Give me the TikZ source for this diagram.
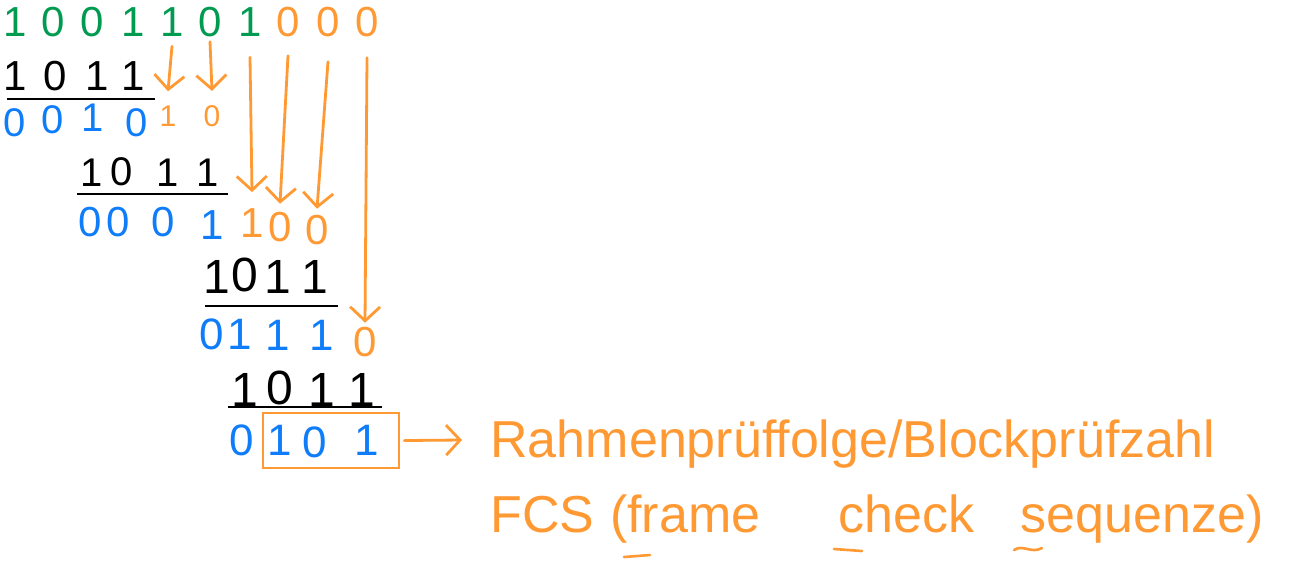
\documentclass[tikz,border=0pt]{standalone}
\usepackage{fontspec}
\setmainfont{Liberation Sans}
\usetikzlibrary{arrows.meta}
\definecolor{grn}{RGB}{0,155,80}
\definecolor{org}{RGB}{255,153,51}
\definecolor{blu}{RGB}{15,125,250}
\tikzset{
  dig/.style={inner sep=0pt,font=\fontsize{#1}{#1}\selectfont},
  dig/.default=21,
  gdig/.style={dig,text=grn},
  odig/.style={dig=#1,text=org},
  odig/.default=21,
  bdig/.style={dig=#1,text=blu},
  bdig/.default=21,
  uline/.style={line width=1.3pt,black},
  garr/.style={-{Straight Barb[length=7pt,width=15pt]},draw=org,line width=1.4pt,line cap=round},
  fcsbox/.style={draw=org,line width=1.4pt,minimum width=68pt,minimum height=27.5pt,inner sep=0pt},
  hlbl/.style={inner sep=0pt,anchor=base west,text=org,font=\fontsize{26}{30}\selectfont},
  tickmark/.style={org,line width=1.3pt,line cap=round}
}

\begin{document}
\begin{tikzpicture}[x=0.5pt,y=-0.5pt]
  \useasboundingbox (0,0) rectangle (1309,574);

  % Dividend with appended zeros
  \foreach \d/\x [count=\i] in {1/15,0/53,0/92,1/133,1/172,0/210,1/250}
    \node[gdig] (t\i) at (\x,22.5) {\d};
  \foreach \d/\x [count=\i from 8] in {0/288,0/328,0/367}
    \node[odig] (t\i) at (\x,22.5) {\d};

  % Step 1
  \foreach \d/\x [count=\i] in {1/15,0/55,1/97,1/133}
    \node[dig] (a\i) at (\x,76) {\d};
  \draw[uline] (7,99) -- (155,99);
  \foreach \d/\x/\y [count=\i] in {0/15/123,0/53/120,1/93/118,0/137/123}
    \node[bdig=20] (ra\i) at (\x,\y) {\d};
  \node[odig=15] (oa1) at (168,116) {1};
  \node[odig=15] (oa2) at (212,116) {0};

  % Step 2
  \foreach \d/\x/\y [count=\i] in {1/92/173,0/122/172,1/168/173,1/208/173}
    \node[dig=20] (b\i) at (\x,\y) {\d};
  \draw[uline] (77,194) -- (228,194);
  \foreach \d/\x/\y [count=\i] in {0/90/222,0/118/222,0/163/222,1/212/225}
    \node[bdig] (rb\i) at (\x,\y) {\d};
  \node[odig] (ob1) at (252,223) {1};
  \node[odig] (ob2) at (280,227) {0};
  \node[odig] (ob3) at (317,230) {0};

  % Step 3
  \foreach \d/\x/\y [count=\i] in {1/217/277,0/245/275,1/278/277,1/315/277}
    \node[dig=24] (c\i) at (\x,\y) {\d};
  \draw[uline] (205,306) -- (338,306);
  \foreach \d/\x/\y [count=\i] in {0/212/334,1/240/334,1/278/335,1/322/335}
    \node[bdig=22] (rc\i) at (\x,\y) {\d};
  \node[odig] (oc1) at (365,342) {0};

  % Step 4
  \foreach \d/\x/\y [count=\i] in {1/245/390,0/280/388,1/322/390,1/362/390}
    \node[dig=24] (d\i) at (\x,\y) {\d};
  \draw[uline] (228,407) -- (382,407);
  \node[bdig=22] (rd1) at (242,440) {0};
  \node[fcsbox] (fcs) at (331,440.5) {};
  \node[bdig=22] (rd2) at (280,440) {1};
  \node[bdig=22] (rd3) at (315,442) {0};
  \node[bdig=22] (rd4) at (367,440) {1};

  % Bring-down arrows
  \draw[garr] ([yshift=-4.5pt]t5.south) -- ([yshift=7pt]oa1.north);
  \draw[garr] ([yshift=-2pt]t6.south) -- ([yshift=7pt]oa2.north);
  \draw[garr] ([yshift=-10pt]t7.south) -- ([yshift=8pt]ob1.north);
  \draw[garr] ([yshift=-9pt]t8.south) -- ([yshift=4pt]ob2.north);
  \draw[garr] ([yshift=-12pt]t9.south) -- ([yshift=3pt]ob3.north);
  \draw[garr] ([yshift=-10pt]t10.south) -- ([yshift=2pt]oc1.north);

  % Result label
  \coordinate (fcsend) at (462,440);
  \draw[garr] ([xshift=2pt]fcs.east) -- (fcsend);
  \node[hlbl] (lbl1) at (490,457) {Rahmenprüffolge/Blockprüfzahl};
  \node[hlbl] (lbl2) at (490,532) {FCS\hspace{0.3em}(frame\hspace{1.5em}check\hspace{0.9em}sequenze)};
  \draw[tickmark] (624,557) -- (650,555);
  \draw[tickmark] (834,549) -- (862,551);
  \draw[tickmark] (1014,550) .. controls (1023,544) and (1031,554) .. (1042,548);
\end{tikzpicture}
\end{document}
